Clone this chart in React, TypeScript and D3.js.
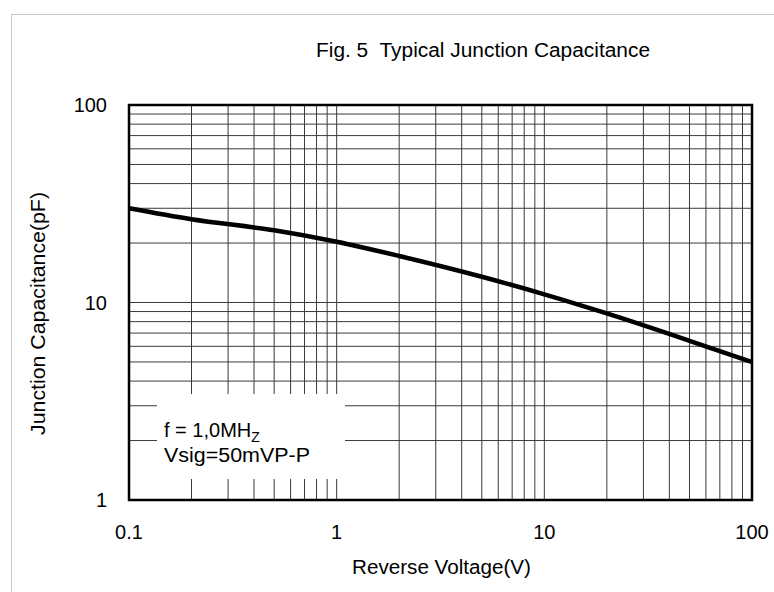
import { useEffect, useRef } from "react";
import * as d3 from "d3";

const voltage = [0.1, 0.2, 0.5, 1, 2, 5, 10, 20, 50, 100];
const capacitance = [30, 26.4, 23.2, 20.3, 17.2, 13.5, 11.0, 8.8, 6.4, 5.0];

const xTicks = [0.1, 1, 10, 100];
const xTickLabels = ["0.1", "1", "10", "100"];
const yTicks = [1, 10, 100];
const yTickLabels = ["1", "10", "100"];

const title = "Fig. 5  Typical Junction Capacitance";
const xTitle = "Reverse Voltage(V)";
const yTitle = "Junction Capacitance(pF)";

const WIDTH = 774;
const HEIGHT = 592;

export default function App() {
  const svgRef = useRef<SVGSVGElement>(null);

  useEffect(() => {
    if (!svgRef.current) return;
    const svg = d3.select(svgRef.current);
    svg.selectAll("*").remove();

    const left = 129;
    const right = 752;
    const top = 105;
    const bottom = 500;
    const font = "Liberation Sans, Arial, sans-serif";

    const x = d3.scaleLog().domain([0.1, 100]).range([left, right]);
    const y = d3.scaleLog().domain([1, 100]).range([bottom, top]);

    svg.append("rect").attr("width", WIDTH).attr("height", HEIGHT).attr("fill", "#fff");

    // outer frame (only left and top edges visible)
    svg
      .append("path")
      .attr("d", `M11.5,${HEIGHT} V14.5 H${WIDTH}`)
      .attr("fill", "none")
      .attr("stroke", "#c8c8c8")
      .attr("stroke-width", 1);

    // grid
    const minor: number[] = [];
    for (const d of [0.1, 1, 10]) for (let k = 1; k < 10; k++) minor.push(d * k);
    const yMinor: number[] = [];
    for (const d of [1, 10]) for (let k = 1; k < 10; k++) yMinor.push(d * k);

    const grid = svg.append("g").attr("stroke", "#3a3a3a").attr("stroke-width", 1);
    grid
      .selectAll("line.v")
      .data(minor.slice(1))
      .join("line")
      .attr("x1", (d) => x(d))
      .attr("x2", (d) => x(d))
      .attr("y1", top)
      .attr("y2", bottom);
    grid
      .selectAll("line.h")
      .data(yMinor.slice(1))
      .join("line")
      .attr("x1", left)
      .attr("x2", right)
      .attr("y1", (d) => y(d))
      .attr("y2", (d) => y(d));

    // annotation box hides the grid
    svg.append("rect").attr("x", 157).attr("y", 394).attr("width", 188).attr("height", 85).attr("fill", "#fff");

    const note = svg.append("g").attr("font-family", font).attr("fill", "#000");
    const t1 = note.append("text").attr("x", 164).attr("y", 437).attr("font-size", 20);
    t1.append("tspan").text("f = 1,0MH");
    t1.append("tspan").attr("font-size", 14).attr("dy", 5).text("Z");
    note
      .append("text")
      .attr("x", 164)
      .attr("y", 462)
      .attr("font-size", 20)
      .attr("textLength", 146)
      .attr("lengthAdjust", "spacingAndGlyphs")
      .text("Vsig=50mVP-P");

    // curve
    const line = d3
      .line<number>()
      .x((_, i) => x(voltage[i]))
      .y((d) => y(d))
      .curve(d3.curveMonotoneX);
    svg
      .append("path")
      .datum(capacitance)
      .attr("fill", "none")
      .attr("stroke", "#000")
      .attr("stroke-width", 4.5)
      .attr("d", line);

    // plot border
    svg
      .append("rect")
      .attr("x", left)
      .attr("y", top)
      .attr("width", right - left)
      .attr("height", bottom - top)
      .attr("fill", "none")
      .attr("stroke", "#000")
      .attr("stroke-width", 2.5);

    const labels = svg.append("g").attr("font-family", font).attr("font-size", 20).attr("fill", "#000");
    labels
      .selectAll("text.x")
      .data(xTicks)
      .join("text")
      .attr("x", (d) => x(d))
      .attr("y", 539)
      .attr("text-anchor", "middle")
      .text((_, i) => xTickLabels[i]);
    labels
      .selectAll("text.y")
      .data(yTicks)
      .join("text")
      .attr("x", 107)
      .attr("y", (d) => y(d))
      .attr("dy", "0.36em")
      .attr("text-anchor", "end")
      .text((_, i) => yTickLabels[i]);

    svg
      .append("text")
      .attr("x", 352)
      .attr("y", 574)
      .attr("font-family", font)
      .attr("font-size", 20)
      .attr("textLength", 179)
      .attr("lengthAdjust", "spacingAndGlyphs")
      .text(xTitle);

    svg
      .append("text")
      .attr("transform", "translate(45,435) rotate(-90)")
      .attr("font-family", font)
      .attr("font-size", 20)
      .attr("textLength", 243)
      .attr("lengthAdjust", "spacingAndGlyphs")
      .text(yTitle);

    svg
      .append("text")
      .attr("x", 316)
      .attr("y", 57)
      .attr("font-family", font)
      .attr("font-size", 20)
      .attr("textLength", 334)
      .attr("lengthAdjust", "spacingAndGlyphs")
      .style("white-space", "pre")
      .text(title);
  }, []);

  return (
    <svg
      ref={svgRef}
      width={WIDTH}
      height={HEIGHT}
      style={{ position: "absolute", left: 0, top: 0, display: "block" }}
    />
  );
}
